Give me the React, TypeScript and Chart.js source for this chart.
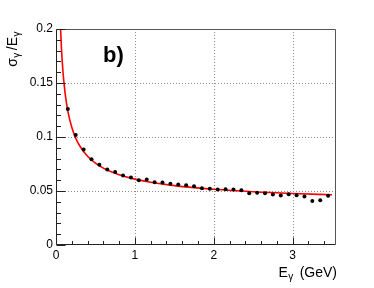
import React, { useEffect, useRef } from 'react';
import { Chart, registerables } from 'chart.js';

Chart.register(...registerables);

// Measured resolution points (E_gamma in GeV, sigma/E)
const pointE = [
  0.15, 0.25, 0.35, 0.45, 0.55, 0.65, 0.75, 0.85, 0.95, 1.05, 1.15, 1.25,
  1.35, 1.45, 1.55, 1.65, 1.75, 1.85, 1.95, 2.05, 2.15, 2.25, 2.35, 2.45,
  2.55, 2.65, 2.75, 2.85, 2.95, 3.05, 3.15, 3.25, 3.35, 3.45,
];
const pointSigma = [
  0.126, 0.1018, 0.0885, 0.0795, 0.0744, 0.07, 0.0675, 0.0644, 0.0626, 0.06, 0.0606, 0.058,
  0.0579, 0.0566, 0.056, 0.0554, 0.0545, 0.0526, 0.052, 0.0514, 0.0517, 0.0514, 0.0508, 0.048,
  0.0483, 0.048, 0.0468, 0.0458, 0.047, 0.0461, 0.0449, 0.0408, 0.0415, 0.0455,
];

// Fitted curve
const fitE = [
  0.055, 0.06, 0.07, 0.08, 0.09, 0.1, 0.12, 0.15, 0.2, 0.25, 0.3, 0.4, 0.5,
  0.6, 0.7, 0.8, 1.0, 1.2, 1.5, 2.0, 2.5, 3.0, 3.5,
];
const fitSigma = [
  0.206, 0.197, 0.181, 0.169, 0.159, 0.151, 0.138, 0.124, 0.109, 0.099, 0.0919, 0.0822, 0.0758,
  0.0712, 0.0678, 0.0651, 0.061, 0.0581, 0.055, 0.0516, 0.0493, 0.0477, 0.0465,
];

const xTickValues = [0, 1, 2, 3];
const xTickLabels = ['0', '1', '2', '3'];
const yTickValues = [0, 0.05, 0.1, 0.15, 0.2];
const yTickLabels = ['0', '0.05', '0.1', '0.15', '0.2'];

const X_MIN = 0;
const X_MAX = 3.55;
const Y_MIN = 0;
const Y_MAX = 0.2;

const FONT = '"Liberation Sans", Arial, Helvetica, sans-serif';

type Part = { t: string; sub?: boolean };

const SUB_GAP = 3;

function measureParts(ctx: CanvasRenderingContext2D, parts: Part[], size: number, subSize: number) {
  let w = 0;
  for (const p of parts) {
    ctx.font = `${p.sub ? subSize : size}px ${FONT}`;
    w += ctx.measureText(p.t).width + (p.sub ? SUB_GAP : 0);
  }
  return w;
}

function drawParts(ctx: CanvasRenderingContext2D, parts: Part[], x: number, y: number, size: number, subSize: number) {
  let cx = x;
  for (const p of parts) {
    ctx.font = `${p.sub ? subSize : size}px ${FONT}`;
    ctx.fillText(p.t, cx + (p.sub ? 0.5 : 0), y + (p.sub ? 3 : 0));
    cx += ctx.measureText(p.t).width + (p.sub ? SUB_GAP : 0);
  }
}

export default function App() {
  const ref = useRef<HTMLCanvasElement>(null);

  useEffect(() => {
    const canvas = ref.current;
    if (!canvas) return;

    const rootFrame = {
      id: 'rootFrame',
      beforeDatasetsDraw(chart: any) {
        const { ctx, chartArea: a, scales } = chart;
        const xs = scales.x;
        const ys = scales.y;
        ctx.save();
        ctx.strokeStyle = '#8c8c8c';
        ctx.lineWidth = 1;
        ctx.setLineDash([1, 2]);
        for (const v of xTickValues) {
          if (v <= X_MIN || v >= X_MAX) continue;
          const px = Math.round(xs.getPixelForValue(v)) + 0.5;
          ctx.beginPath();
          ctx.moveTo(px, a.top);
          ctx.lineTo(px, a.bottom);
          ctx.stroke();
        }
        for (const v of yTickValues) {
          if (v <= Y_MIN || v >= Y_MAX) continue;
          const py = Math.round(ys.getPixelForValue(v)) + 0.5;
          ctx.beginPath();
          ctx.moveTo(a.left, py);
          ctx.lineTo(a.right, py);
          ctx.stroke();
        }
        ctx.restore();
      },
      afterDatasetsDraw(chart: any) {
        const { ctx, chartArea: a, scales } = chart;
        const xs = scales.x;
        const ys = scales.y;
        const L = Math.round(a.left) + 0.5;
        const R = Math.round(a.right) - 0.5;
        const T = Math.round(a.top) + 0.5;
        const B = Math.round(a.bottom) - 0.5;
        ctx.save();
        ctx.setLineDash([]);
        // frame
        ctx.strokeStyle = '#555';
        ctx.lineWidth = 1;
        ctx.beginPath();
        ctx.moveTo(L, T);
        ctx.lineTo(R, T);
        ctx.lineTo(R, B);
        ctx.stroke();
        // axes
        ctx.strokeStyle = '#222';
        ctx.beginPath();
        ctx.moveTo(L, T);
        ctx.lineTo(L, B);
        ctx.lineTo(R, B);
        ctx.stroke();
        // y ticks (inward)
        ctx.beginPath();
        for (let i = 0; i <= 20; i++) {
          const v = i * 0.01;
          const py = Math.round(ys.getPixelForValue(v)) + 0.5;
          const len = i % 5 === 0 ? 9 : 4.5;
          ctx.moveTo(L, py);
          ctx.lineTo(L + len, py);
        }
        // x ticks (inward)
        for (let i = 0; i <= 17; i++) {
          const v = i * 0.2;
          if (v > X_MAX) break;
          const px = Math.round(xs.getPixelForValue(v)) + 0.5;
          const len = i % 5 === 0 ? 7 : 3.5;
          ctx.moveTo(px, B);
          ctx.lineTo(px, B - len);
        }
        ctx.stroke();

        // texts
        ctx.fillStyle = '#000';
        ctx.textBaseline = 'alphabetic';
        ctx.textAlign = 'left';
        // panel label
        ctx.font = `bold 22px ${FONT}`;
        ctx.fillText('b)', 103, 62);

        // x title
        const xParts: Part[] = [{ t: 'E' }, { t: 'γ', sub: true }, { t: ' (GeV)' }];
        const xw = measureParts(ctx, xParts, 14, 10);
        drawParts(ctx, xParts, a.right + 1 - xw, 277, 14, 10);

        // y title
        const yParts: Part[] = [{ t: 'σ' }, { t: 'γ', sub: true }, { t: '/E' }, { t: 'γ', sub: true }];
        const yw = measureParts(ctx, yParts, 14, 10);
        ctx.save();
        ctx.translate(17, a.top + yw);
        ctx.rotate(-Math.PI / 2);
        drawParts(ctx, yParts, 0, 0, 14, 10);
        ctx.restore();

        ctx.restore();
      },
    };

    const chart = new Chart(canvas, {
      type: 'scatter',
      data: {
        datasets: [
          {
            label: 'fit',
            data: fitE.map((e, i) => ({ x: e, y: fitSigma[i] })),
            showLine: true,
            borderColor: '#ff0000',
            borderWidth: 1.6,
            pointRadius: 0,
            cubicInterpolationMode: 'monotone',
            order: 2,
          } as any,
          {
            label: 'data',
            data: pointE.map((e, i) => ({ x: e, y: pointSigma[i] })),
            showLine: false,
            pointRadius: 2,
            pointBackgroundColor: '#000',
            pointBorderWidth: 0,
            backgroundColor: '#000',
            order: 1,
          } as any,
        ],
      },
      options: {
        responsive: false,
        animation: false,
        devicePixelRatio: 1,
        events: [],
        layout: { padding: { left: 0, top: 29, right: 38, bottom: 0 } },
        plugins: {
          legend: { display: false },
          tooltip: { enabled: false },
        },
        scales: {
          x: {
            type: 'linear',
            min: X_MIN,
            max: X_MAX,
            grid: { display: false, drawTicks: false },
            border: { display: false },
            afterBuildTicks: (s: any) => {
              s.ticks = xTickValues.map((v) => ({ value: v }));
            },
            afterFit: (s: any) => {
              s.height = 43;
            },
            ticks: {
              padding: 3,
              color: '#000',
              font: { family: FONT, size: 12 },
              maxRotation: 0,
              autoSkip: false,
              callback: (_v: any, i: number) => xTickLabels[i],
            },
          },
          y: {
            type: 'linear',
            min: Y_MIN,
            max: Y_MAX,
            grid: { display: false, drawTicks: false },
            border: { display: false },
            afterBuildTicks: (s: any) => {
              s.ticks = yTickValues.map((v) => ({ value: v }));
            },
            afterFit: (s: any) => {
              s.width = 56;
            },
            ticks: {
              padding: 3,
              color: '#000',
              font: { family: FONT, size: 12 },
              autoSkip: false,
              callback: (_v: any, i: number) => yTickLabels[i],
            },
          },
        },
      } as any,
      plugins: [rootFrame],
    });

    return () => {
      chart.destroy();
    };
  }, []);

  return (
    <div style={{ position: 'absolute', left: 0, top: 0, width: 374, height: 288, background: '#fff' }}>
      <canvas ref={ref} width={374} height={288} style={{ display: 'block', width: 374, height: 288 }} />
    </div>
  );
}
